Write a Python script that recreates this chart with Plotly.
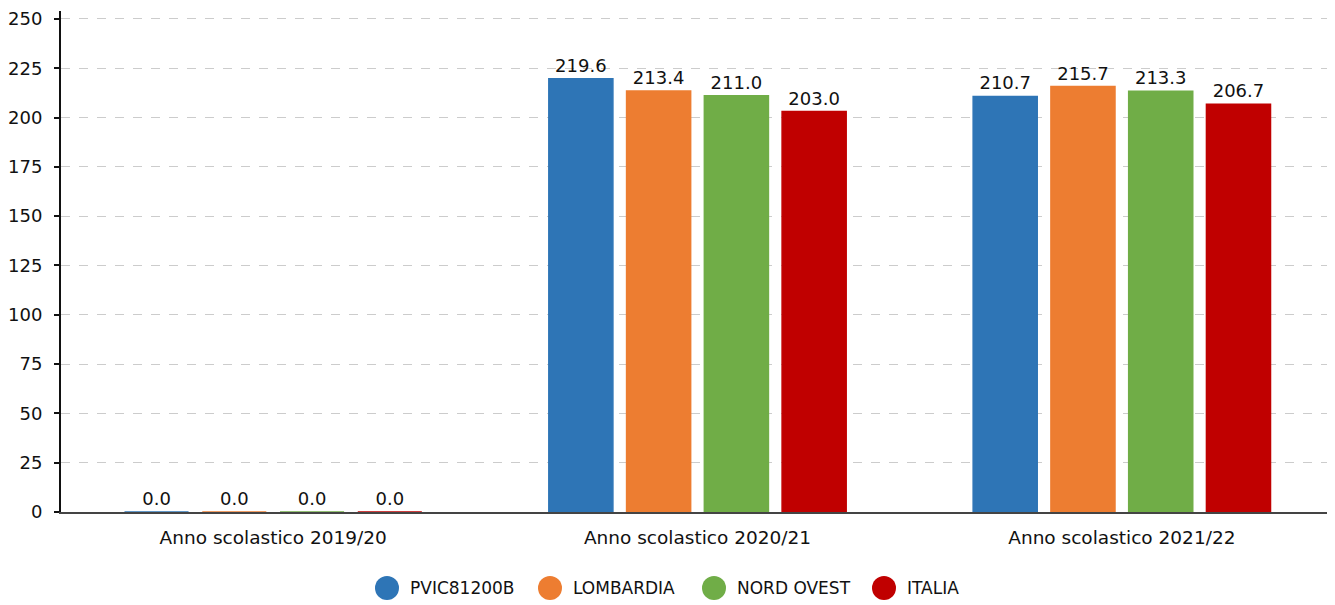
import plotly.graph_objects as go

categories = ["Anno scolastico 2019/20", "Anno scolastico 2020/21", "Anno scolastico 2021/22"]
series_names = ["PVIC81200B", "LOMBARDIA", "NORD OVEST", "ITALIA"]
pvic = [0.0, 219.6, 210.7]
lombardia = [0.0, 213.4, 215.7]
nord_ovest = [0.0, 211.0, 213.3]
italia = [0.0, 203.0, 206.7]
colors = ["#2e75b6", "#ed7d31", "#70ad47", "#c00000"]
y_ticks = [0, 25, 50, 75, 100, 125, 150, 175, 200, 225, 250]

FONT = "DejaVu Sans"
OFF = 8  # default body margin of the html page
W, H = 1335 - OFF, 605 - OFF
ML, MR, MT, MB = 61 - OFF, 1, 11 - OFF, 93
PW, PH = W - ML - MR, H - MT - MB

fig = go.Figure()
for name, vals, col in zip(series_names, [pvic, lombardia, nord_ovest, italia], colors):
    fig.add_trace(go.Bar(
        x=categories, y=vals, name=name,
        marker=dict(color=col, line=dict(color=col, width=1.5)),
        text=[f"{v:.1f}" for v in vals], textposition="outside",
        textfont=dict(family=FONT, size=18, color="#111"),
        cliponaxis=False, showlegend=False,
    ))

# custom legend: large circles + labels (positions in page pixels)
legend_circle_px = [387, 550, 714, 884]
legend_y_px = 588
for name, col, cx in zip(series_names, colors, legend_circle_px):
    xp = (cx - OFF - ML) / PW
    yp = -(legend_y_px - OFF - (MT + PH)) / PH
    fig.add_shape(type="circle", xref="paper", yref="paper",
                  xsizemode="pixel", ysizemode="pixel", xanchor=xp, yanchor=yp,
                  x0=-12, x1=12, y0=-12, y1=12,
                  fillcolor=col, line=dict(width=0))
    fig.add_annotation(x=xp, y=yp, xref="paper", yref="paper", text=name,
                       showarrow=False, xanchor="left", yanchor="middle", xshift=21,
                       font=dict(family=FONT, size=17, color="#111"))

fig.update_layout(
    width=W, height=H,
    margin=dict(l=ML, r=MR, t=MT, b=MB),
    paper_bgcolor="white", plot_bgcolor="white",
    barmode="group", bargap=0.267, bargroupgap=0.176,
    font=dict(family=FONT, size=18, color="#111"),
    showlegend=False,
    xaxis=dict(showgrid=False, ticks="", showline=True, linecolor="#444", linewidth=2,
               automargin=False, ticklabelstandoff=8, layer="below traces",
               tickfont=dict(family=FONT, size=18.5)),
    yaxis=dict(range=[0, 254], tickvals=y_ticks, showgrid=True, gridcolor="#cccccc",
               griddash="dash", gridwidth=1, showline=True, linecolor="#111", linewidth=2,
               ticks="outside", ticklen=5, tickwidth=2, tickcolor="#111", zeroline=False,
               automargin=False, ticklabelstandoff=8,
               tickfont=dict(family=FONT, size=18)),
)
fig.write_html("out.html")
